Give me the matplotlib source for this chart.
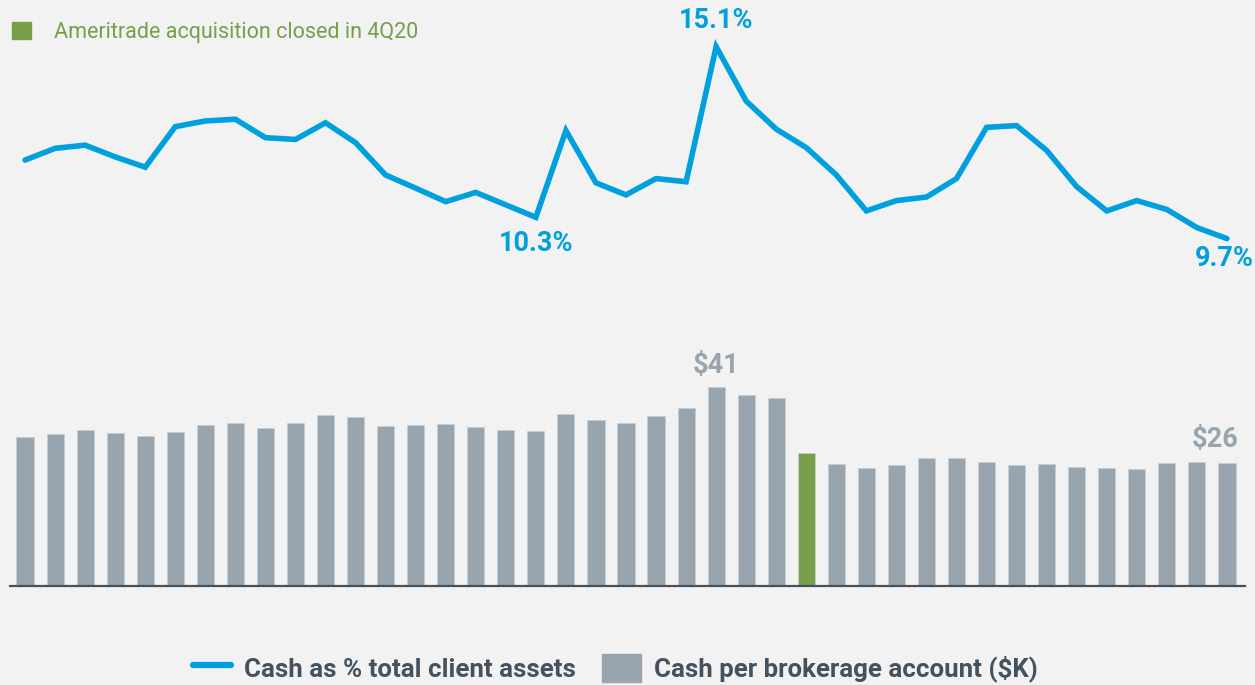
import matplotlib
matplotlib.use("Agg")
import matplotlib.pyplot as plt
from matplotlib.lines import Line2D
from matplotlib.patches import Patch

plt.rcParams["font.family"] = ["Roboto", "DejaVu Sans"]

# quarterly series, oldest first; index 26 is 4Q20 (Ameritrade close)
cash_pct = [11.91, 12.24, 12.33, 12.00, 11.71, 12.85, 13.01, 13.06, 12.54, 12.49,
            12.96, 12.40, 11.49, 11.12, 10.74, 11.00, 10.65, 10.30, 12.74, 11.27,
            10.93, 11.39, 11.30, 15.10, 13.57, 12.78, 12.26, 11.49, 10.48, 10.77,
            10.87, 11.39, 12.83, 12.88, 12.18, 11.16, 10.48, 10.77, 10.52, 10.01,
            9.70]
cash_per_acct = [30.6, 31.3, 32.0, 31.5, 30.8, 31.7, 33.1, 33.5, 32.6, 33.5,
                 35.2, 34.7, 33.0, 33.1, 33.3, 32.7, 32.0, 31.9, 35.4, 34.1,
                 33.5, 35.0, 36.6, 41.0, 39.2, 38.6, 27.3, 25.1, 24.3, 24.8,
                 26.3, 26.4, 25.5, 25.0, 25.1, 24.5, 24.2, 24.1, 25.4, 25.6,
                 25.3]
acq_idx = 26
pct_labels = {23: "15.1%", 17: "10.3%", 40: "9.7%"}
bar_labels = {23: "$41", 40: "$26"}

BG = "#f2f2f2"
BLUE = "#00a0df"
GREY = "#99a5ae"
GREEN = "#789e49"
DARK = "#44525f"

W, H = 1255, 685
fig = plt.figure(figsize=(W / 100, H / 100), dpi=100, facecolor=BG)


def px_axes(x0, y0, x1, y1):
    return fig.add_axes([x0 / W, 1 - y1 / H, (x1 - x0) / W, (y1 - y0) / H])


x = list(range(len(cash_pct)))

# line panel
ax1 = px_axes(10, 14.7, 1245, 263.5)
ax1.plot(x, cash_pct, color=BLUE, lw=4, solid_joinstyle="miter", solid_capstyle="round")
ax1.set_xlim(-0.5, 40.6)
ax1.set_ylim(9, 16)
for i, txt in pct_labels.items():
    below = i != 23
    off = -14 if i == 40 else (-19 if below else 19)
    dx = -2 if i == 40 else 0
    ax1.annotate(txt, (x[i], cash_pct[i]), xytext=(dx, off), textcoords="offset points",
                 ha="center", va="center", color=BLUE, fontsize=19.5, fontweight="bold")

# bar panel
ax2 = px_axes(10, 367.3, 1245, 586)
colors = [GREEN if i == acq_idx else GREY for i in x]
ax2.bar(x, cash_per_acct, width=0.57, color=colors, edgecolor="#c5ced4", linewidth=0.6)
ax2.set_xlim(-0.5, 40.6)
ax2.set_ylim(0, 45)
for i, txt in bar_labels.items():
    if i == 40:
        ax2.annotate(txt, (x[i] + 0.4, cash_per_acct[i]), xytext=(0, 17),
                     textcoords="offset points", ha="right", va="center",
                     color=GREY, fontsize=19.5, fontweight="bold")
    else:
        ax2.annotate(txt, (x[i], cash_per_acct[i]), xytext=(0, 15),
                     textcoords="offset points", ha="center", va="center",
                     color=GREY, fontsize=19.5, fontweight="bold")

for ax in (ax1, ax2):
    ax.set_facecolor("none")
    for s in ax.spines.values():
        s.set_visible(False)
    ax.set_xticks([])
    ax.set_yticks([])
ax2.spines["bottom"].set_visible(True)
ax2.spines["bottom"].set_color(DARK)
ax2.spines["bottom"].set_linewidth(1.6)

# acquisition note
fig.legend(handles=[Patch(color=GREEN)], labels=["Ameritrade acquisition closed in 4Q20"],
           loc="upper left", bbox_to_anchor=(-0.004, 0.993), frameon=False, fontsize=15.5,
           labelcolor=GREEN, handlelength=0.85, handleheight=0.85, handletextpad=1.1,
           borderaxespad=0.4)

# bottom legend
handles = [Line2D([0], [0], color=BLUE, lw=4.5, solid_capstyle="round"), Patch(color=GREY)]
leg = fig.legend(handles=handles,
                 labels=["Cash as % total client assets", "Cash per brokerage account ($K)"],
                 loc="lower center", bbox_to_anchor=(0.49, -0.03), ncol=2, frameon=False,
                 fontsize=18.6, handlelength=1.5, handleheight=1.3, handletextpad=0.5,
                 columnspacing=1.0)
for t in leg.get_texts():
    t.set_color(DARK)
    t.set_fontweight("bold")

fig.savefig("out.png", dpi=100, facecolor=BG)
